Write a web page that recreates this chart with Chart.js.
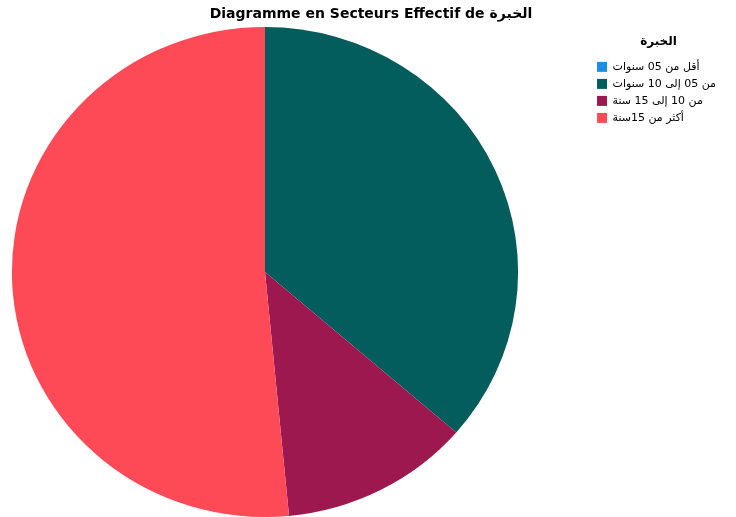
<!DOCTYPE html>
<html>
<head>
<meta charset="utf-8">
<script src="https://cdn.jsdelivr.net/npm/chart.js@4/dist/chart.umd.min.js"></script>
<style>
  html, body { margin: 0; padding: 0; background: #fff; }
  #wrap { width: 736px; height: 517px; }
</style>
</head>
<body>
<div id="wrap"><canvas id="pie"></canvas></div>
<script>
const labels = ["أقل من 05 سنوات", "من 05 إلى 10 سنوات", "من 10 إلى 15 سنة", "أكثر من 15سنة"];
const counts = [0, 12, 4, 17];
const colors = ["#1b8fe6", "#025d5c", "#9e1850", "#fe4a56"];

const FONT = "'DejaVu Sans', 'Liberation Sans', Arial, sans-serif";

// pie sits left of the legend, slightly wider than tall
const pieBox = { cx: 265, cy: 272, r: 245, stretchX: 1.033 };
const pieArea = {
  id: "pieArea",
  afterLayout(chart) {
    const a = chart.chartArea;
    a.left = pieBox.cx - pieBox.r;
    a.right = pieBox.cx + pieBox.r;
    a.top = pieBox.cy - pieBox.r;
    a.bottom = pieBox.cy + pieBox.r;
    a.width = a.right - a.left;
    a.height = a.bottom - a.top;
  },
  beforeDatasetsDraw(chart) {
    const ctx = chart.ctx;
    ctx.save();
    ctx.translate(pieBox.cx, 0);
    ctx.scale(pieBox.stretchX, 1);
    ctx.translate(-pieBox.cx, 0);
  },
  afterDatasetsDraw(chart) {
    chart.ctx.restore();
  }
};

new Chart(document.getElementById("pie").getContext("2d"), {
  type: "pie",
  data: {
    labels: labels,
    datasets: [{
      data: counts,
      backgroundColor: colors,
      borderWidth: 0
    }]
  },
  options: {
    responsive: true,
    maintainAspectRatio: false,
    animation: false,
    layout: { padding: { left: 16, right: 10 } },
    plugins: {
      title: {
        display: true,
        text: "Diagramme en Secteurs Effectif de الخبرة",
        color: "#000",
        font: { family: FONT, size: 14, weight: "bold" },
        padding: { top: 6, bottom: 8 }
      },
      legend: {
        position: "right",
        align: "start",
        title: {
          display: true,
          text: "الخبرة",
          color: "#000",
          font: { family: FONT, size: 12, weight: "bold" },
          padding: { top: 36, bottom: 5 }
        },
        labels: {
          boxWidth: 10,
          boxHeight: 10,
          padding: 6,
          color: "#000",
          font: { family: FONT, size: 11 }
        }
      },
      tooltip: { enabled: false }
    }
  },
  plugins: [pieArea]
});
</script>
</body>
</html>
